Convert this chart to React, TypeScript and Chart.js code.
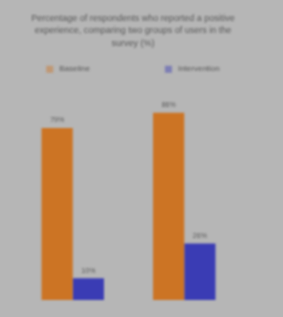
import React, { useEffect, useRef } from "react";
import { Chart, registerables } from "chart.js";

Chart.register(...registerables);

const titleLines = [
  "Percentage of respondents who reported a positive",
  "experience, comparing two groups of users in the",
  "survey (%)",
];
const categories = ["Group A", "Group B"];
const seriesLabels = ["Baseline", "Intervention"];
const seriesA = [79, 86];
const seriesB = [10, 26];
const valueSuffix = "%";

const ORANGE = "#cc7424";
const BLUE = "#3a3cb4";
const BG = "#b6b6b6";
const TEXT = "#585858";

const valueLabelPlugin = {
  id: "valueLabels",
  afterDatasetsDraw(chart: any) {
    const { ctx } = chart;
    ctx.save();
    ctx.font = "7px 'Liberation Sans', Arial, sans-serif";
    ctx.fillStyle = TEXT;
    ctx.textAlign = "center";
    ctx.textBaseline = "bottom";
    chart.data.datasets.forEach((ds: any, di: number) => {
      const meta = chart.getDatasetMeta(di);
      meta.data.forEach((bar: any, i: number) => {
        ctx.fillText(String(ds.data[i]) + valueSuffix, bar.x, bar.y - 4);
      });
    });
    ctx.restore();
  },
};

const customLegendPlugin = {
  id: "customLegend",
  afterDraw(chart: any) {
    const { ctx } = chart;
    ctx.save();
    ctx.font = "8px 'Liberation Sans', Arial, sans-serif";
    ctx.textBaseline = "middle";
    ctx.textAlign = "left";
    const box = 7;
    const gapText = 6;
    const gapItems = 75;
    const items = chart.data.datasets.map((ds: any) => ({
      text: ds.label,
      color: ds.backgroundColor,
      w: box + gapText + ctx.measureText(ds.label).width,
    }));
    const total = items.reduce((s: number, it: any) => s + it.w, 0) + gapItems * (items.length - 1);
    const center = (17 + chart.width - 34) / 2;
    let x = center - total / 2;
    const y = chart.chartArea.top - 13;
    items.forEach((it: any) => {
      ctx.globalAlpha = 0.45;
      ctx.fillStyle = it.color;
      ctx.fillRect(x, y - box / 2, box, box);
      ctx.globalAlpha = 1;
      ctx.fillStyle = TEXT;
      ctx.fillText(it.text, x + box + gapText, y);
      x += it.w + gapItems;
    });
    ctx.restore();
  },
};

export default function App() {
  const ref = useRef<HTMLCanvasElement>(null);
  useEffect(() => {
    if (!ref.current) return;
    const chart = new Chart(ref.current, {
      type: "bar",
      data: {
        labels: categories,
        datasets: [
          { label: seriesLabels[0], data: seriesA, backgroundColor: ORANGE },
          { label: seriesLabels[1], data: seriesB, backgroundColor: BLUE },
        ],
      },
      options: {
        responsive: false,
        animation: false,
        layout: { padding: { left: 17, right: 34, top: 0, bottom: 17 } },
        datasets: { bar: { categoryPercentage: 0.56, barPercentage: 1 } },
        scales: {
          x: { display: false },
          y: {
            position: "right",
            min: 0,
            max: 100,
            ticks: { display: false },
            grid: { display: false },
            border: { display: false },
            afterFit: (s: any) => {
              s.width = 9;
            },
          },
        },
        plugins: {
          legend: { display: false },
          tooltip: { enabled: false },
          title: {
            display: true,
            text: titleLines,
            color: TEXT,
            font: { size: 9, family: "'Liberation Sans', Arial, sans-serif", weight: "normal", lineHeight: 1.38 },
            padding: { top: 12, bottom: 33 },
          },
        },
      },
      plugins: [valueLabelPlugin, customLegendPlugin],
    });
    return () => chart.destroy();
  }, []);
  return (
    <div style={{ position: "fixed", left: 0, top: 0, width: 283, height: 317, background: BG }}>
      <canvas ref={ref} width={283} height={317} style={{ display: "block", filter: "blur(1.1px)" }} />
    </div>
  );
}
